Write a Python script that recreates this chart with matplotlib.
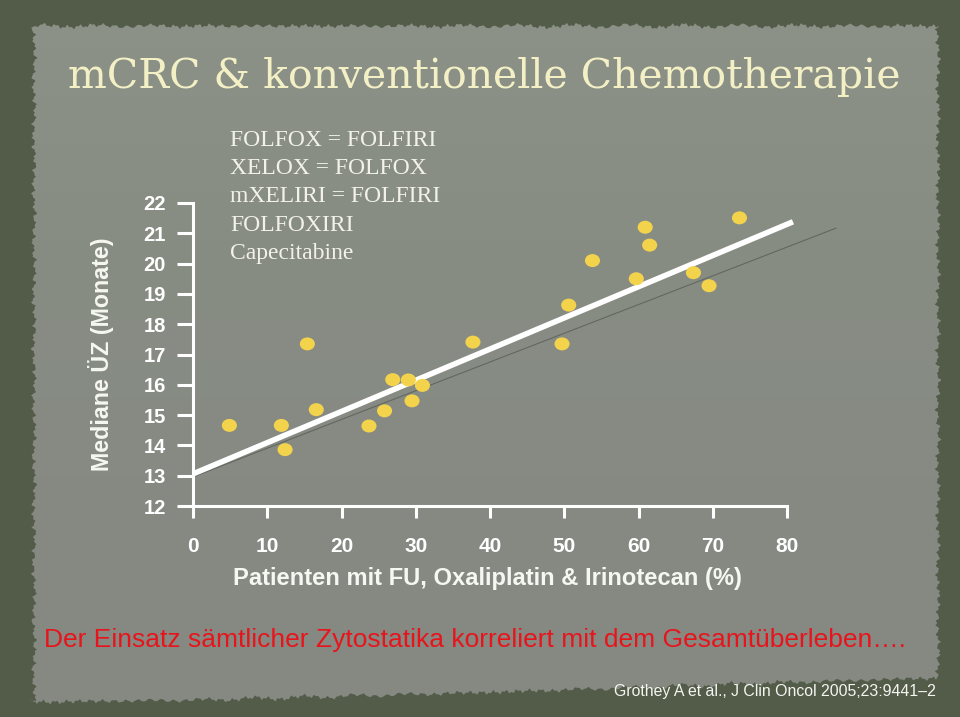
import numpy as np
import matplotlib
matplotlib.use("Agg")
import matplotlib.pyplot as plt
from matplotlib.patches import Polygon
from matplotlib.path import Path
from matplotlib.transforms import Affine2D
from matplotlib.colors import LinearSegmentedColormap

# ---------------- data ----------------
pct_all_three = [4.9, 11.9, 12.4, 15.4, 16.6, 23.7, 25.8, 26.9, 29.0, 29.5, 30.9,
                 37.7, 49.7, 50.6, 53.8, 59.7, 60.9, 61.5, 67.4, 69.5, 73.6]
median_os = [14.66, 14.66, 13.86, 17.35, 15.18, 14.64, 15.14, 16.17, 16.16, 15.47, 15.98,
             17.41, 17.35, 18.63, 20.10, 19.50, 21.20, 20.61, 19.70, 19.27, 21.51]
fit_x = [0.0, 80.8]
fit_y = [13.06, 21.38]
fit2_x = [0.0, 86.6]
fit2_y = [12.96, 21.17]
x_ticks = [0, 10, 20, 30, 40, 50, 60, 70, 80]
y_ticks = [12, 13, 14, 15, 16, 17, 18, 19, 20, 21, 22]
box_lines = ["FOLFOX = FOLFIRI", "XELOX = FOLFOX", "mXELIRI = FOLFIRI", "FOLFOXIRI", "Capecitabine"]
title = "mCRC & konventionelle Chemotherapie"
x_label = "Patienten mit FU, Oxaliplatin & Irinotecan (%)"
y_label = "Mediane ÜZ (Monate)"
footnote = "Der Einsatz sämtlicher Zytostatika korreliert mit dem Gesamtüberleben…."
citation = "Grothey A et al., J Clin Oncol 2005;23:9441–2"

W, H = 960, 717
fig = plt.figure(figsize=(W / 100, H / 100), dpi=100)
fig.patch.set_facecolor("#535c49")

# ---------------- background slide ----------------
bg = fig.add_axes([0, 0, 1, 1])
bg.set_xlim(0, W)
bg.set_ylim(H, 0)
bg.axis("off")

def ragged(a0, a1, base, ph):
    t = np.linspace(a0, a1, 400)
    off = (1.4 * np.sin(t * 0.53 + ph) + 1.0 * np.sin(t * 1.37 + 2.1 * ph)
           + 0.8 * np.sin(t * 0.117 + 0.7 * ph) + 0.6 * np.sin(t * 2.9 + ph))
    return t, base + off

tx, ty = ragged(38, 936, 26, 0.3)
rx_y, rx = ragged(26, 676, 938, 1.1)
bx, by = ragged(936, 30, 688, 0.7)
by = by + np.interp(bx, [30, 200, 500, 800, 936], [14, 12, 4, -6, -10])
lx_y, lx = ragged(702, 26, 34, 2.0)
pts = np.concatenate([
    np.column_stack([tx, ty]),
    np.column_stack([rx, rx_y]),
    np.column_stack([bx, by]),
    np.column_stack([lx, lx_y]),
])
panel = Polygon(pts, closed=True, facecolor="none", edgecolor="none")
bg.add_patch(panel)
grad = np.linspace(0, 1, 256)[:, None] * np.ones((1, 4))
cmap = LinearSegmentedColormap.from_list("p", ["#8c9287", "#888d84", "#868a83", "#858982"])
im = bg.imshow(grad, extent=[0, W, H, 0], cmap=cmap, aspect="auto", zorder=1)
im.set_clip_path(panel)

def px(x, y):
    return x / W, 1 - y / H

def fit_width(t, target):
    fig.canvas.draw()
    r = fig.canvas.get_renderer()
    for _ in range(3):
        w = t.get_window_extent(r).width
        t.set_fontsize(t.get_fontsize() * target / w)

def fit_height(t, target):
    fig.canvas.draw()
    r = fig.canvas.get_renderer()
    for _ in range(3):
        h = t.get_window_extent(r).height
        t.set_fontsize(t.get_fontsize() * target / h)

# ---------------- texts ----------------
tt = fig.text(*px(484, 88), title, family="DejaVu Serif", color="#f4f0c6",
              ha="center", va="baseline", fontsize=26)
fit_width(tt, 832)

for i, line in enumerate(box_lines):
    fig.text(*px(230, 145.5 + 28.5 * i), line, family="Liberation Serif", color="#f2f2ea",
             ha="left", va="baseline", fontsize=17)

yl = fig.text(*px(101, 354), y_label, family="Liberation Sans", weight="bold", color="#f7f7f2",
              rotation=90, ha="center", va="center", fontsize=17)
fit_height(yl, 233)

xl = fig.text(*px(487, 579), x_label, family="Liberation Sans", weight="bold", color="#f7f7f2",
              ha="center", va="center", fontsize=15)
fit_width(xl, 510)

ft = fig.text(*px(44, 647), footnote, family="Liberation Sans", color="#e8141c",
              ha="left", va="baseline", fontsize=20)
fit_width(ft, 862)

ct = fig.text(*px(936, 696), citation, family=["Liberation Sans Narrow", "Liberation Sans"],
              color="#f4f4f0", ha="right", va="baseline", fontsize=12)
fit_width(ct, 323)

# ---------------- chart ----------------
ax = fig.add_axes([193 / W, (H - 506) / H, (787 - 193) / W, (506 - 203) / H])
ax.patch.set_alpha(0)
ax.set_xlim(0, 80)
ax.set_ylim(12, 22)
for s in ["top", "right"]:
    ax.spines[s].set_visible(False)
for s in ["left", "bottom"]:
    ax.spines[s].set_color("white")
    ax.spines[s].set_linewidth(2.2)
ax.set_xticks(x_ticks)
ax.set_yticks(y_ticks)
ax.tick_params(axis="x", direction="out", length=8.6, width=2.2, color="white",
               labelcolor="white", labelsize=15, pad=14)
ax.tick_params(axis="y", direction="out", length=11.5, width=2.2, color="white",
               labelcolor="white", labelsize=14.5, pad=8)
for lab in ax.get_xticklabels() + ax.get_yticklabels():
    lab.set_fontweight("bold")
    lab.set_family("Liberation Sans")

ax.plot(fit2_x, fit2_y, color="#62675f", lw=0.8, clip_on=False, zorder=2)
ax.plot(fit_x, fit_y, color="white", lw=4.0, solid_capstyle="butt", clip_on=False, zorder=3)

ell = Path.unit_circle().transformed(Affine2D().scale(1.0, 0.86))
ax.scatter(pct_all_three, median_os, marker=ell, s=118, color="#f4d34c",
           edgecolors="none", clip_on=False, zorder=4)

fig.savefig("out.png", dpi=100, facecolor=fig.get_facecolor())
